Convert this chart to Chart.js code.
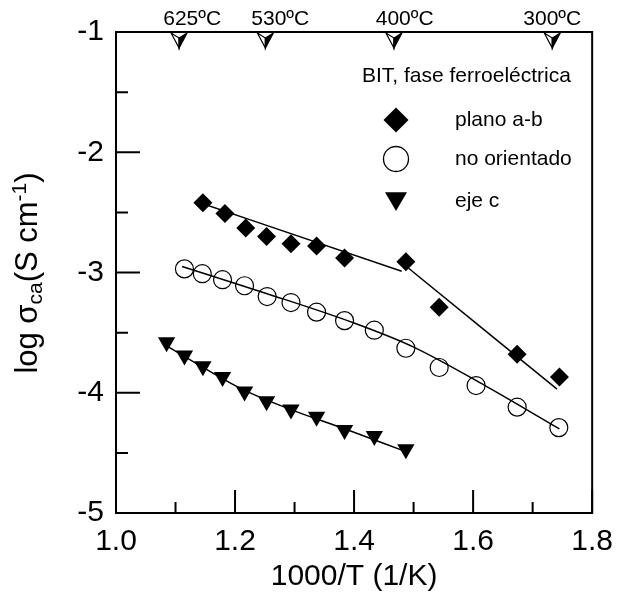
<!DOCTYPE html>
<html>
<head>
<meta charset="utf-8">
<script src="https://cdn.jsdelivr.net/npm/chart.js@4/dist/chart.umd.min.js"></script>
<style>
  html, body { margin: 0; padding: 0; background: #fff; }
  #c { display: block; }
</style>
</head>
<body>
<canvas id="c" width="624" height="599"></canvas>
<script>
// 1000/T values and log conductivity for each orientation
const abX = [1.146, 1.183, 1.218, 1.253, 1.294, 1.337, 1.384, 1.487, 1.543, 1.674, 1.745];
const abY = [-2.42, -2.51, -2.63, -2.70, -2.76, -2.78, -2.88, -2.91, -3.29, -3.68, -3.87];

const noX = [1.115, 1.145, 1.179, 1.216, 1.254, 1.294, 1.337, 1.384, 1.434, 1.487, 1.543, 1.605, 1.674, 1.744];
const noY = [-2.97, -3.01, -3.06, -3.11, -3.20, -3.25, -3.33, -3.40, -3.48, -3.63, -3.79, -3.94, -4.12, -4.29];

const cX = [1.085, 1.115, 1.146, 1.179, 1.216, 1.253, 1.294, 1.337, 1.384, 1.434, 1.487];
const cY = [-3.58, -3.69, -3.78, -3.87, -3.99, -4.07, -4.14, -4.20, -4.31, -4.36, -4.47];

// fitted lines
const abFit1X = [1.135, 1.480];
const abFit1Y = [-2.41, -2.99];
const abFit2X = [1.488, 1.741];
const abFit2Y = [-2.95, -3.97];
const noFitX = [1.111, 1.25, 1.40, 1.50, 1.62, 1.745];
const noFitY = [-2.95, -3.17, -3.42, -3.62, -3.94, -4.30];
const cFitX = [1.078, 1.15, 1.216, 1.294, 1.384, 1.487];
const cFitY = [-3.59, -3.80, -3.98, -4.14, -4.30, -4.49];

// temperature markers on the top edge
const tempLabels = ["625ºC", "530ºC", "400ºC", "300ºC"];
const tempMarkX = [1.106, 1.251, 1.467, 1.733];
const tempLabelX = [1.128, 1.276, 1.485, 1.733];

const legendTitle = "BIT, fase ferroeléctrica";
const legendLabels = ["plano a-b", "no orientado", "eje c"];

const FONT = "'Liberation Sans', Arial, sans-serif";

function pts(xs, ys) {
  return xs.map((x, i) => ({ x: x, y: ys[i] }));
}

function fitLine(xs, ys) {
  return {
    data: pts(xs, ys),
    showLine: true,
    borderColor: "#000",
    borderWidth: 1.5,
    pointRadius: 0,
    cubicInterpolationMode: "monotone",
    order: 2,
  };
}

function markerPath(ctx, style, x, y, r) {
  ctx.beginPath();
  if (style === "diamond") {
    ctx.moveTo(x, y - r);
    ctx.lineTo(x + r, y);
    ctx.lineTo(x, y + r);
    ctx.lineTo(x - r, y);
    ctx.closePath();
  } else if (style === "circle") {
    ctx.arc(x, y, r, 0, Math.PI * 2);
  } else {
    ctx.moveTo(x - r, y - r * 0.8);
    ctx.lineTo(x + r, y - r * 0.8);
    ctx.lineTo(x, y + r * 0.9);
    ctx.closePath();
  }
}

// frame, inward ticks, top temperature markers, legend and y title
const decorations = {
  id: "decorations",
  afterDatasetsDraw(chart) {
    const ctx = chart.ctx;
    const a = chart.chartArea;
    const xs = chart.scales.x;
    const ys = chart.scales.y;
    ctx.save();

    // frame
    ctx.strokeStyle = "#000";
    ctx.lineWidth = 2;
    ctx.strokeRect(a.left, a.top, a.right - a.left, a.bottom - a.top);

    // ticks
    ctx.lineWidth = 2;
    ctx.beginPath();
    for (let i = 0; i <= 8; i++) {
      const px = xs.getPixelForValue(1 + i * 0.1);
      const len = i % 2 === 0 ? 23 : 11;
      ctx.moveTo(px, a.bottom);
      ctx.lineTo(px, a.bottom - len);
    }
    for (let i = 0; i <= 8; i++) {
      const py = ys.getPixelForValue(-1 - i * 0.5);
      const len = i % 2 === 0 ? 24 : 12;
      ctx.moveTo(a.left, py);
      ctx.lineTo(a.left + len, py);
    }
    ctx.stroke();

    // temperature markers
    ctx.lineWidth = 1.2;
    tempMarkX.forEach((v, i) => {
      const px = xs.getPixelForValue(v);
      const t = a.top + 1;
      ctx.beginPath();
      ctx.moveTo(px - 8, t);
      ctx.lineTo(px, t + 5);
      ctx.lineTo(px, t + 15);
      ctx.closePath();
      ctx.fillStyle = "#fff";
      ctx.fill();
      ctx.stroke();
      ctx.beginPath();
      ctx.moveTo(px + 8, t);
      ctx.lineTo(px, t + 5);
      ctx.lineTo(px, t + 15);
      ctx.closePath();
      ctx.fillStyle = "#000";
      ctx.fill();
      ctx.stroke();

      ctx.fillStyle = "#000";
      ctx.font = "21px " + FONT;
      ctx.textAlign = "center";
      ctx.textBaseline = "alphabetic";
      ctx.fillText(tempLabels[i], xs.getPixelForValue(tempLabelX[i]), 25);
    });

    // legend
    ctx.fillStyle = "#000";
    ctx.font = "21px " + FONT;
    ctx.textAlign = "left";
    ctx.textBaseline = "alphabetic";
    ctx.fillText(legendTitle, 362, 82);
    const styles = ["diamond", "circle", "triangle"];
    const sizes = [12.5, 12.5, 11];
    const rowY = [120, 159, 201];
    styles.forEach((s, i) => {
      markerPath(ctx, s, 396, rowY[i], sizes[i]);
      if (s === "circle") {
        ctx.fillStyle = "#fff";
        ctx.fill();
        ctx.lineWidth = 1.3;
        ctx.strokeStyle = "#000";
        ctx.stroke();
      } else {
        ctx.fillStyle = "#000";
        ctx.fill();
      }
      ctx.fillStyle = "#000";
      ctx.textBaseline = "middle";
      ctx.fillText(legendLabels[i], 455, rowY[i]);
    });

    // y axis title with subscript and superscript
    const parts = [
      { t: "log σ", size: 31, dy: 0 },
      { t: "ca", size: 21, dy: 5 },
      { t: "(S cm", size: 31, dy: 0 },
      { t: "-1", size: 21, dy: -11 },
      { t: ")", size: 31, dy: 0 },
    ];
    let total = 0;
    parts.forEach((p) => {
      ctx.font = p.size + "px " + FONT;
      p.w = ctx.measureText(p.t).width;
      total += p.w;
    });
    ctx.translate(37, 273);
    ctx.rotate(-Math.PI / 2);
    ctx.textAlign = "left";
    ctx.textBaseline = "alphabetic";
    let cx = -total / 2;
    parts.forEach((p) => {
      ctx.font = p.size + "px " + FONT;
      ctx.fillText(p.t, cx, p.dy);
      cx += p.w;
    });

    ctx.restore();
  },
};

const chart = new Chart(document.getElementById("c"), {
  type: "scatter",
  data: {
    datasets: [
      {
        label: "plano a-b",
        data: pts(abX, abY),
        pointStyle: "rectRot",
        pointRadius: 9.5,
        backgroundColor: "#000",
        borderColor: "#000",
        borderWidth: 0,
        order: 1,
      },
      {
        label: "no orientado",
        data: pts(noX, noY),
        pointStyle: "circle",
        pointRadius: 9,
        backgroundColor: "rgba(255,255,255,0)",
        borderColor: "#000",
        borderWidth: 1.2,
        order: 1,
      },
      {
        label: "eje c",
        data: pts(cX, cY),
        pointStyle: "triangle",
        pointRotation: 180,
        pointRadius: 10,
        backgroundColor: "#000",
        borderColor: "#000",
        borderWidth: 0,
        order: 1,
      },
      fitLine(abFit1X, abFit1Y),
      fitLine(abFit2X, abFit2Y),
      fitLine(noFitX, noFitY),
      fitLine(cFitX, cFitY),
    ],
  },
  options: {
    responsive: false,
    animation: false,
    devicePixelRatio: 1,
    layout: { padding: { top: 32, right: 26, left: 0, bottom: 0 } },
    plugins: {
      legend: { display: false },
      tooltip: { enabled: false },
    },
    scales: {
      x: {
        type: "linear",
        min: 1.0,
        max: 1.8,
        afterFit: (s) => { s.height = 86; },
        grid: { display: false, drawTicks: false },
        border: { display: false },
        ticks: {
          stepSize: 0.2,
          padding: 11,
          color: "#000",
          font: { family: FONT, size: 30 },
          callback: (v) => Number(v).toFixed(1),
        },
        title: {
          display: true,
          text: "1000/T (1/K)",
          color: "#000",
          font: { family: FONT, size: 30 },
          padding: { top: 0, bottom: 4 },
        },
      },
      y: {
        type: "linear",
        min: -5,
        max: -1,
        afterFit: (s) => { s.width = 116; },
        grid: { display: false, drawTicks: false },
        border: { display: false },
        ticks: {
          stepSize: 1,
          padding: 12,
          color: "#000",
          font: { family: FONT, size: 30 },
          callback: (v) => String(v),
        },
      },
    },
  },
  plugins: [decorations],
});
</script>
</body>
</html>
